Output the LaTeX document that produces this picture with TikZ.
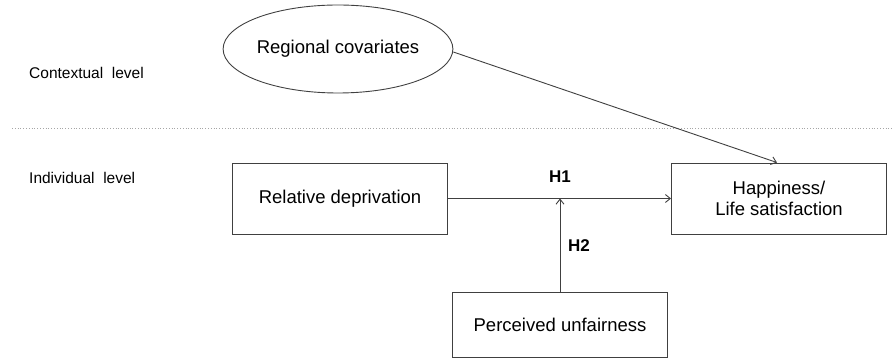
\documentclass[tikz,border=0pt]{standalone}
\usepackage{fontspec}
\setmainfont{Liberation Sans}
\usetikzlibrary{arrows.meta,shapes.geometric}
\begin{document}
\begin{tikzpicture}[x=1pt,y=-1pt,
  line/.style={draw=black!75, line width=0.9pt},
  arr/.style={line, -{Straight Barb[length=5pt,width=8pt]}},
  boxnode/.style={line, rectangle, minimum width=215pt, minimum height=71pt, align=center, font=\fontsize{18.5}{21}\selectfont, inner sep=0pt},
  lvl/.style={anchor=west, font=\fontsize{15.5}{18}\selectfont, inner sep=0pt},
  hyp/.style={font=\bfseries\fontsize{17}{20}\selectfont, inner sep=0pt}]
\useasboundingbox (0,0) rectangle (894,363);
\node[line, ellipse, minimum width=221pt, minimum height=88pt, inner sep=0pt, font=\fontsize{18.5}{21}\selectfont] (reg) at (338,49) {Regional covariates};
\node[lvl] (ctx) at (29,73) {Contextual\ \ level};
\node[lvl] (ind) at (29,178) {Individual\ \ level};
\coordinate (dl) at (12,128);
\coordinate (dr) at (894,128);
\draw[black!35, line width=0.8pt, dotted] (dl) -- (dr);
\node[boxnode] (rd) at (340,198.5) {Relative deprivation};
\node[boxnode] (hap) at (779,198.5) {Happiness/\\Life satisfaction};
\node[boxnode, minimum height=65pt] (pu) at (560,324.5) {Perceived unfairness};
\draw[arr] (reg.east) ++(0,3) coordinate (rs) (rs) -- ([xshift=-2pt]hap.north);
\draw[arr] (rd.east) -- (hap.west);
\coordinate (mid) at (rd.east -| pu.north);
\draw[arr] (pu.north) -- (mid);
\node[hyp] (h1) at (560,177) {H1};
\node[hyp] (h2) at (579,246) {H2};
\end{tikzpicture}
\end{document}
